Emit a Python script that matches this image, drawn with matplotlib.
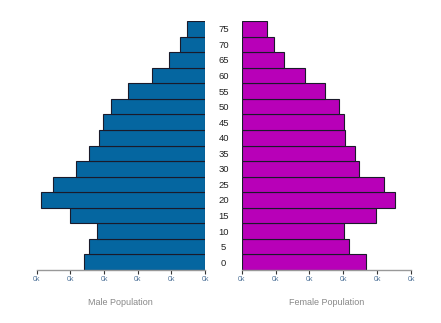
import matplotlib
matplotlib.use("Agg")
import matplotlib.pyplot as plt

# age groups (bottom to top)
ages = [0, 5, 10, 15, 20, 25, 30, 35, 40, 45, 50, 55, 60, 65, 70, 75]
male = [179, 172, 161, 201, 244, 226, 191, 173, 158, 151, 139, 114, 78, 53, 37, 27]
female = [183, 158, 151, 198, 226, 210, 173, 168, 153, 151, 143, 123, 93, 63, 48, 38]
x_ticks = [0, 50, 100, 150, 200, 250]
x_tick_labels = ["0k"] * len(x_ticks)

MALE_COL = "#0566a0"
FEMALE_COL = "#b800b8"
EDGE = "#1a1a2a"
TEXT = "#888888"

plt.rcParams["font.family"] = ["Liberation Sans", "DejaVu Sans"]

fig = plt.figure(figsize=(4.41, 3.23), dpi=100)
W, H = 441, 323
bottom = (H - 270) / H
height = (270 - 21) / H
ax_l = fig.add_axes([36.7 / W, bottom, (205 - 36.7) / W, height])
ax_r = fig.add_axes([241.7 / W, bottom, (411 - 241.7) / W, height])

pos = list(range(len(ages)))

ax_l.barh(pos, male, height=1.0, color=MALE_COL, edgecolor=EDGE, linewidth=0.8)
ax_r.barh(pos, female, height=1.0, color=FEMALE_COL, edgecolor=EDGE, linewidth=0.8)

for ax in (ax_l, ax_r):
    ax.set_ylim(-0.5, len(ages) - 0.5)
    for side in ("top", "left", "right"):
        ax.spines[side].set_visible(False)
    ax.spines["bottom"].set_color("#999999")
    ax.spines["bottom"].set_linewidth(1.0)
    ax.set_xticks(x_ticks)
    ax.set_xticklabels(x_tick_labels)
    ax.tick_params(axis="x", length=3, width=0.8, color="#333333",
                   labelsize=5, labelcolor="#4a6f96", pad=1.5)

ax_l.set_xlim(250, 0)
ax_r.set_xlim(0, 250)

ax_l.set_yticks([])
ax_r.set_yticks(pos)
ax_r.set_yticklabels([str(a) for a in ages], ha="center")
ax_r.tick_params(axis="y", length=0, labelsize=6.8, labelcolor="#222222", pad=13)

ax_l.set_xlabel("Male Population", color=TEXT, fontsize=6.5, labelpad=10.5)
ax_r.set_xlabel("Female Population", color=TEXT, fontsize=6.5, labelpad=10.5)

fig.savefig("out.png", dpi=100)
